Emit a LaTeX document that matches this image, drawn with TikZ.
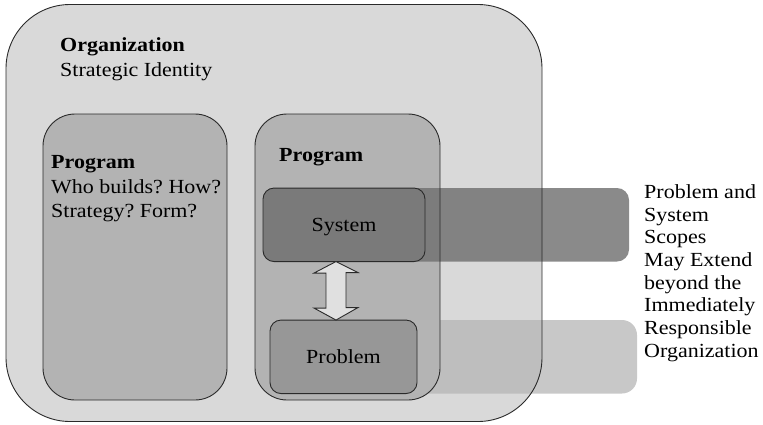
\documentclass[tikz,border=0pt]{standalone}
\usepackage{fontspec}
\setmainfont[FakeStretch=1.1]{Liberation Serif}
\frenchspacing
\definecolor{orgfill}{HTML}{D9D9D9}
\definecolor{progfill}{HTML}{B3B3B3}
\definecolor{sysfill}{HTML}{7A7A7A}
\definecolor{probfill}{HTML}{979797}
\definecolor{sysband}{HTML}{707070}
\definecolor{probband}{HTML}{B5B5B5}
\definecolor{arrowfill}{HTML}{E0E0E0}
\definecolor{edge}{HTML}{2A2A2A}
\tikzset{
  boxbase/.style={inner sep=0pt, outer sep=0pt},
  orgbox/.style={boxbase, fill=orgfill, rounded corners=64pt},
  progbox/.style={boxbase, fill=progfill, rounded corners=32pt},
  innerbox/.style={boxbase, draw=edge, line width=0.9pt, rounded corners=11pt, text depth=0pt},
  outline/.style={draw=edge, line width=0.9pt},
  lbl/.style={inner sep=0pt, anchor=base west},
  dbl/.style={draw=edge, line width=0.9pt, fill=arrowfill, line join=miter}
}
\begin{document}
\begin{tikzpicture}[x=1pt, y=-1pt, font=\fontsize{20}{24}\selectfont\frenchspacing]
\useasboundingbox (0,0) rectangle (763,424);

% organization and the two programs (fills first)
\node[orgbox, minimum width=536pt, minimum height=417pt] (org) at (274,213) {};
\node[progbox, minimum width=184pt, minimum height=286pt] (progA) at (135,257) {};
\node[progbox, minimum width=185pt, minimum height=286pt] (progB) at (347.5,257) {};

% scope bands reaching past the organization
\fill[sysband, fill opacity=0.82, rounded corners=12pt] (263,188) rectangle (629,261.5);
\fill[probband, fill opacity=0.74, rounded corners=15pt] (270,320) rectangle (637,393.5);

% outlines on top of the bands
\draw[outline, rounded corners=64pt] (org.north west) rectangle (org.south east);
\draw[outline, rounded corners=32pt] (progA.north west) rectangle (progA.south east);
\draw[outline, rounded corners=32pt] (progB.north west) rectangle (progB.south east);

% system and problem
\node[innerbox, fill=sysfill, minimum width=162pt, minimum height=73.5pt] (sys) at (344,224.8) {System};
\node[innerbox, fill=probfill, minimum width=147pt, minimum height=73.5pt] (prob) at (343.5,356.8) {Problem};

% two-headed arrow between them
\coordinate (at) at (sys.south -| 336,0);
\coordinate (ab) at (prob.north -| 336,0);
\draw[dbl] (at) -- ++(22,11) -- ++(-12,0) -- ++(0,35) -- ++(12,0) -- (ab)
  -- ++(-22,-12) -- ++(12,0) -- ++(0,-35) -- ++(-12,0) -- cycle;

% labels
\node[lbl] (orgT) at (60,51.7) {\bfseries Organization};
\node[lbl] (orgS) at (60,76.7) {Strategic Identity};
\node[lbl] (pAT) at (51,168.3) {\bfseries Program};
\node[lbl] (pA1) at (51,193.3) {Who builds? How?};
\node[lbl] (pA2) at (51,217.7) {Strategy? Form?};
\node[lbl] (pBT) at (279,161.7) {\bfseries Program};

\foreach \t [count=\i from 0] in {Problem and, System, Scopes, May Extend,
    beyond the, Immediately, Responsible, Organization}
  \node[lbl] (note\i) at (644,198.3+22.7*\i) {\t};
\end{tikzpicture}
\end{document}
